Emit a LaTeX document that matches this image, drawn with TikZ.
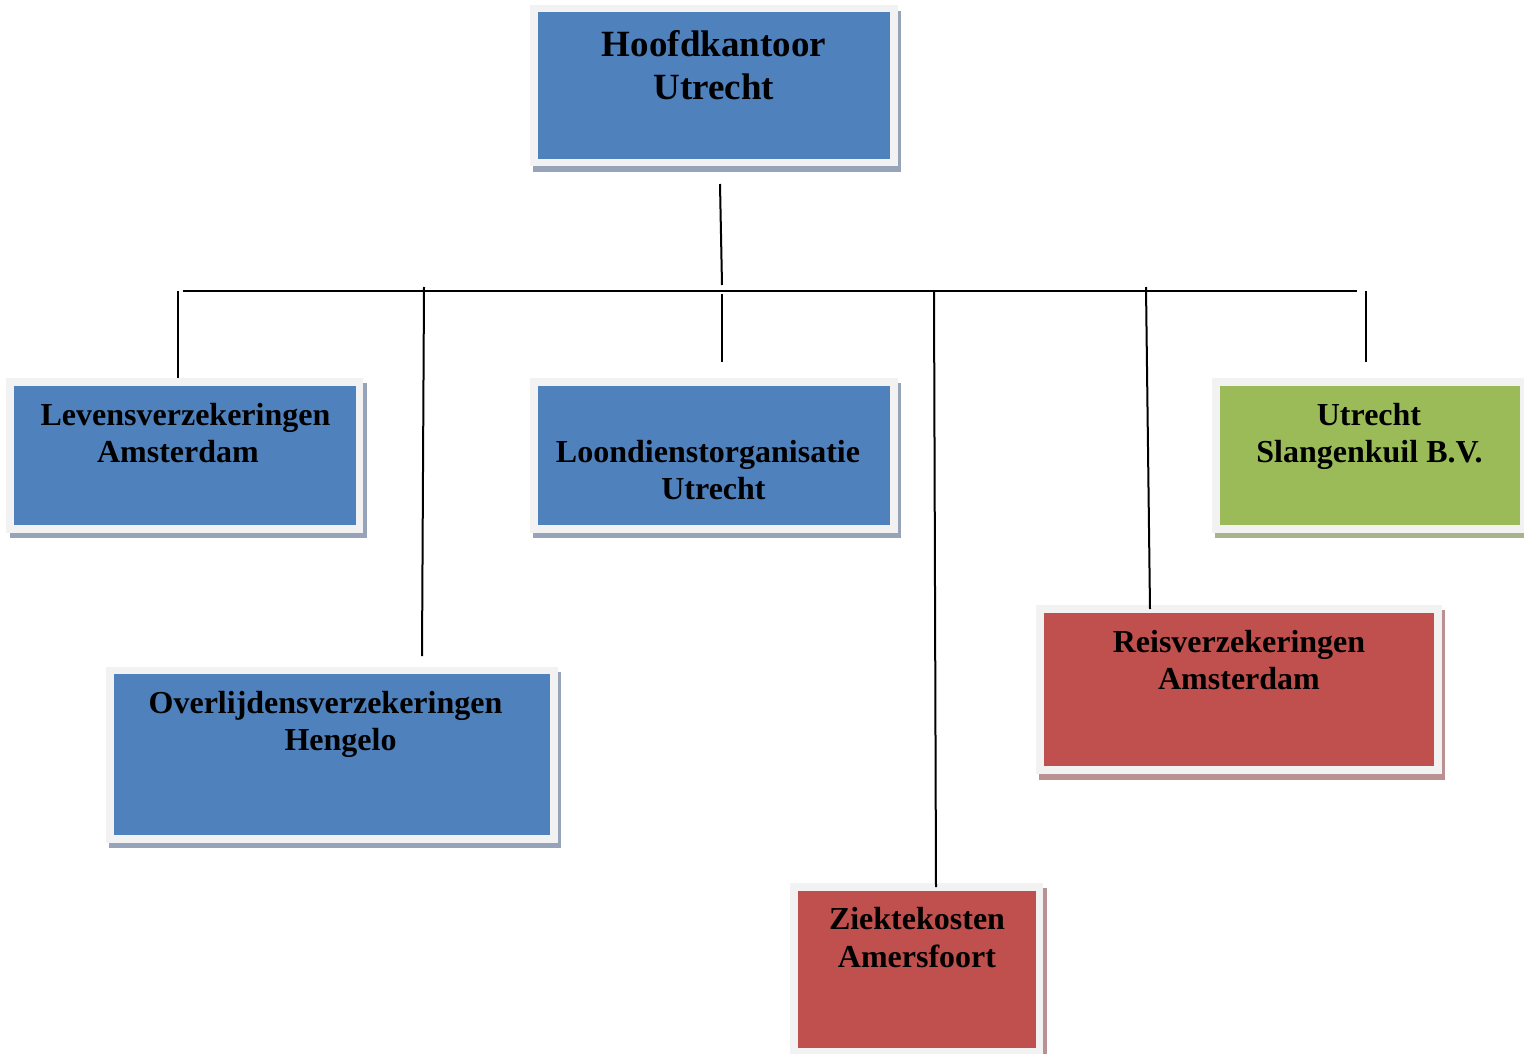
\documentclass[tikz,border=0pt]{standalone}
\usepackage{fontspec}
\setmainfont{Liberation Serif}
\definecolor{frameg}{RGB}{242,242,242}
\definecolor{cblue}{RGB}{79,129,189}
\definecolor{cred}{RGB}{192,80,77}
\definecolor{cgreen}{RGB}{155,187,89}
\definecolor{sblue}{RGB}{150,163,185}
\definecolor{sred}{RGB}{185,145,147}
\definecolor{sgreen}{RGB}{168,178,140}
\newcommand{\bigfnt}{\bfseries\fontsize{37}{43}\selectfont}
\newcommand{\smfnt}{\bfseries\fontsize{32}{37}\selectfont}
\tikzset{
  framebox/.style={rectangle, fill=frameg, draw=none, inner sep=0pt, anchor=north west},
  lbl/.style={font=\smfnt, anchor=base, inner sep=0pt, text=black},
  biglbl/.style={lbl, font=\bigfnt},
  conn/.style={line width=2pt, draw=black},
}
\begin{document}
\begin{tikzpicture}[x=1pt,y=-1pt]
\useasboundingbox (0,0) rectangle (1524,1054);
% Hoofdkantoor
\fill[sblue] (533,11) rectangle (901,172);
\node[framebox, minimum width=368pt, minimum height=161pt] (hq) at (530,5) {};
\fill[cblue] (538,12) rectangle (890,159);
\node[biglbl] (hq1) at (714,57) {Hoofdkantoor};
\node[biglbl] (hq2) at (714,100) {Utrecht};
% Levensverzekeringen
\fill[sblue] (10,383) rectangle (367,538);
\node[framebox, minimum width=357pt, minimum height=155pt] (lev) at (6,378) {};
\fill[cblue] (14,386) rectangle (356,525);
\node[lbl] (lev1) at (185.5,425) {Levensverzekeringen};
\node[lbl] (lev2) at (178,462) {Amsterdam};
% Loondienstorganisatie
\fill[sblue] (533,383) rectangle (901,538);
\node[framebox, minimum width=368pt, minimum height=155pt] (loon) at (530,378) {};
\fill[cblue] (538,386) rectangle (890,525);
\node[lbl] (loon1) at (708,462) {Loondienstorganisatie};
\node[lbl] (loon2) at (713.5,499) {Utrecht};
% Utrecht Slangenkuil
\fill[sgreen] (1215,383) rectangle (1527,538);
\node[framebox, minimum width=312pt, minimum height=155pt] (utr) at (1212,378) {};
\fill[cgreen] (1220,386) rectangle (1520,525);
\node[lbl] (utr1) at (1369,425) {Utrecht};
\node[lbl] (utr2) at (1369.5,462) {Slangenkuil B.V.};
% Overlijdensverzekeringen
\fill[sblue] (109,672) rectangle (561,848);
\node[framebox, minimum width=452pt, minimum height=176pt] (over) at (106,667) {};
\fill[cblue] (114,674) rectangle (550,835);
\node[lbl] (over1) at (325.5,713) {Overlijdensverzekeringen};
\node[lbl] (over2) at (340.5,750) {Hengelo};
% Reisverzekeringen
\fill[sred] (1039,610) rectangle (1445,780);
\node[framebox, minimum width=406pt, minimum height=169pt] (reis) at (1036,605) {};
\fill[cred] (1044,613) rectangle (1434,766);
\node[lbl] (reis1) at (1239,652) {Reisverzekeringen};
\node[lbl] (reis2) at (1239,689) {Amsterdam};
% Ziektekosten
\fill[sred] (793,888) rectangle (1047,1060);
\node[framebox, minimum width=253pt, minimum height=175pt] (ziek) at (790,883) {};
\fill[cred] (798,891) rectangle (1036,1048);
\node[lbl] (ziek1) at (917,929) {Ziektekosten};
\node[lbl] (ziek2) at (917,967) {Amersfoort};
% connectors
\coordinate (hqa) at (720,184);
\coordinate (hqb) at (722,285);
\coordinate (busl) at (183,291);
\coordinate (busr) at (1357,291);
\coordinate (d1) at (178,291);
\coordinate (d2) at (424,287);
\coordinate (d2e) at (422,656);
\coordinate (d3) at (722,294);
\coordinate (d3e) at (722,362);
\coordinate (d4) at (934,291);
\coordinate (d4e) at (936,887);
\coordinate (d5) at (1146,287);
\coordinate (d5e) at (1150,609);
\coordinate (d6) at (1366,291);
\coordinate (d6e) at (1366,362);
\draw[conn] (hqa) -- (hqb);
\draw[conn] (busl) -- (busr);
\draw[conn] (d1) -- (d1 |- lev.north);
\draw[conn] (d2) -- (d2e);
\draw[conn] (d3) -- (d3e);
\draw[conn] (d4) -- (d4e);
\draw[conn] (d5) -- (d5e);
\draw[conn] (d6) -- (d6e);
\end{tikzpicture}
\end{document}
